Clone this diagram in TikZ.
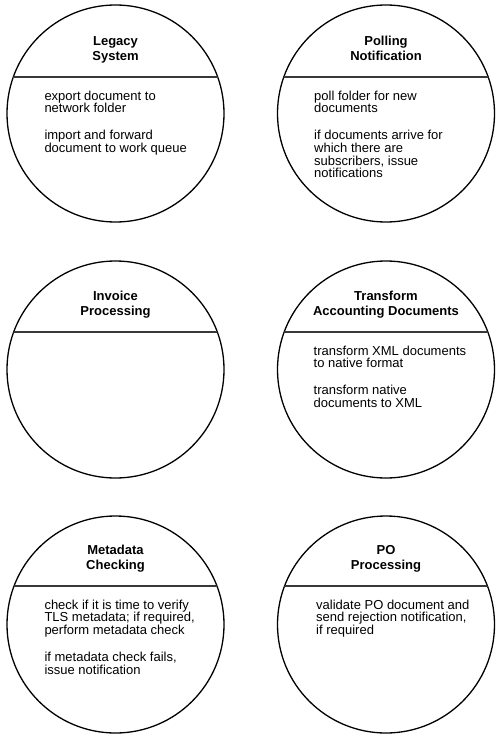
\documentclass[tikz,border=0pt]{standalone}
\usepackage{fontspec}
\setmainfont{Liberation Sans}
\begin{document}
\begin{tikzpicture}[x=1pt,y=-1pt,
  bubble/.style={circle, draw=black, line width=1.3pt, minimum size=217pt, inner sep=0pt},
  divider/.style={draw=black!78, line width=1.8pt},
  titletext/.style={font=\bfseries\fontsize{13pt}{15pt}\selectfont, align=center, anchor=north, inner sep=0pt},
  bodytext/.style={font=\fontsize{13pt}{12.7pt}\selectfont, align=left, anchor=north west, inner sep=0pt}]
\useasboundingbox (0,0) rectangle (500,741);

% circles
\node[bubble] (c1) at (115.5,113.5) {};
\node[bubble] (c2) at (386,113.5) {};
\node[bubble] (c3) at (115.5,369.5) {};
\node[bubble] (c4) at (386,369.5) {};
\node[bubble] (c5) at (115.5,624.5) {};
\node[bubble] (c6) at (386,624.5) {};

% dividers
\begin{scope}
  \clip (c1.center) circle[radius=108.5];
  \draw[divider] (0,77) -- (250,77);
\end{scope}
\begin{scope}
  \clip (c2.center) circle[radius=108.5];
  \draw[divider] (250,77) -- (500,77);
\end{scope}
\begin{scope}
  \clip (c3.center) circle[radius=108.5];
  \draw[divider] (0,332) -- (250,332);
\end{scope}
\begin{scope}
  \clip (c4.center) circle[radius=108.5];
  \draw[divider] (250,332) -- (500,332);
\end{scope}
\begin{scope}
  \clip (c5.center) circle[radius=108.5];
  \draw[divider] (0,586) -- (250,586);
\end{scope}
\begin{scope}
  \clip (c6.center) circle[radius=108.5];
  \draw[divider] (250,586) -- (500,586);
\end{scope}

% titles
\node[titletext] (t1) at (115.5,36) {Legacy\\System};
\node[titletext] (t2) at (386,36) {Polling\\Notification};
\node[titletext] (t3) at (115.5,291) {Invoice\\Processing};
\node[titletext] (t4) at (386,291) {Transform\\Accounting Documents};
\node[titletext] (t5) at (115.5,545) {Metadata\\Checking};
\node[titletext] (t6) at (386,545) {PO\\Processing};

% bodies
\node[bodytext] (b1) at (44.3,90.6) {export document to\\network folder\\[14pt]import and forward\\document to work queue};
\node[bodytext] (b2) at (314,90.6) {poll folder for new\\documents\\[14pt]if documents arrive for\\which there are\\subscribers, issue\\notifications};
\node[bodytext] (b4) at (313.5,345.6) {transform XML documents\\to native format\\[14pt]transform native\\documents to XML};
\node[bodytext] (b5) at (44.3,599.6) {check if it is time to verify\\TLS metadata; if required,\\perform metadata check\\[14pt]if metadata check fails,\\issue notification};
\node[bodytext] (b6) at (316,599.6) {validate PO document and\\send rejection notification,\\if required};
\end{tikzpicture}
\end{document}
